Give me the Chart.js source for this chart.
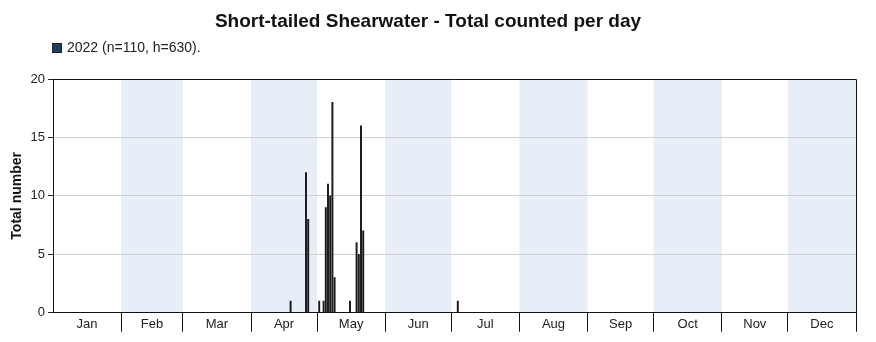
<!DOCTYPE html>
<html>
<head>
<meta charset="utf-8">
<script src="https://cdn.jsdelivr.net/npm/chart.js@4/dist/chart.umd.min.js"></script>
<style>
  html, body { margin: 0; padding: 0; background: #fff; }
  #wrap { width: 876px; height: 342px; }
</style>
</head>
<body>
<div id="wrap"><canvas id="c" width="876" height="342"></canvas></div>
<script>
// Short-tailed Shearwater daily counts, 2022
const chartTitle = 'Short-tailed Shearwater - Total counted per day';
const seriesLabel = '2022 (n=110, h=630).';
const yAxisTitle = 'Total number';
const year = 2022;

const sightingDates = [
  '2022-04-19', '2022-04-26', '2022-04-27', '2022-05-02', '2022-05-04',
  '2022-05-05', '2022-05-06', '2022-05-07', '2022-05-08', '2022-05-09',
  '2022-05-16', '2022-05-19', '2022-05-20', '2022-05-21', '2022-05-22',
  '2022-07-04'
];
const dailyCounts = [1, 12, 8, 1, 1, 9, 11, 10, 18, 3, 1, 6, 5, 16, 7, 1];

const monthLabels = ['Jan', 'Feb', 'Mar', 'Apr', 'May', 'Jun', 'Jul', 'Aug', 'Sep', 'Oct', 'Nov', 'Dec'];
const monthDays = [31, 28, 31, 30, 31, 30, 31, 31, 30, 31, 30, 31];
const yTicks = [0, 5, 10, 15, 20];

const FONT = '"Liberation Sans", Arial, sans-serif';

// day offsets from 1 January
const jan1 = Date.UTC(year, 0, 1);
const dayOffset = s => Math.round((Date.parse(s + 'T00:00:00Z') - jan1) / 86400000);

const monthStarts = [];
monthDays.reduce((acc, d) => { monthStarts.push(acc); return acc + d; }, 0);
const monthEnds = monthStarts.map((s, i) => s + monthDays[i]);
const monthMids = monthStarts.map((s, i) => s + monthDays[i] / 2);
const yearLength = monthEnds[monthEnds.length - 1];

const points = sightingDates.map((d, i) => ({ x: dayOffset(d), y: dailyCounts[i] }));

// alternate months shaded, frame around the plot, legend line
const backdrop = {
  id: 'backdrop',
  beforeDraw(chart) {
    const { ctx, chartArea: a, scales: { x } } = chart;
    ctx.save();
    ctx.fillStyle = '#e8eef8';
    monthStarts.forEach((s, i) => {
      if (i % 2 === 1) {
        const l = x.getPixelForValue(s), r = x.getPixelForValue(monthEnds[i]);
        ctx.fillRect(l, a.top, r - l, a.bottom - a.top);
      }
    });
    ctx.restore();
  },
  afterDraw(chart) {
    const { ctx, chartArea: a } = chart;
    ctx.save();
    ctx.strokeStyle = '#111';
    ctx.lineWidth = 1;
    ctx.beginPath();
    ctx.moveTo(a.left, a.top + 0.5);
    ctx.lineTo(a.right + 0.5, a.top + 0.5);
    ctx.lineTo(a.right + 0.5, a.bottom);
    ctx.stroke();

    // legend
    const bx = a.left - 0.5, by = 43.5;
    ctx.fillStyle = '#1d3f66';
    ctx.strokeStyle = '#222';
    ctx.fillRect(bx, by, 9, 9);
    ctx.strokeRect(bx, by, 9, 9);
    ctx.fillStyle = '#222';
    ctx.font = '14px ' + FONT;
    ctx.textBaseline = 'middle';
    ctx.textAlign = 'left';
    ctx.fillText(chart.data.datasets[0].label, a.left + 14, 48.5);
    ctx.restore();
  }
};

new Chart(document.getElementById('c'), {
  type: 'bar',
  data: {
    datasets: [{
      label: seriesLabel,
      data: points,
      backgroundColor: '#1a1a1a',
      borderWidth: 0,
      barThickness: 1.3
    }]
  },
  options: {
    responsive: false,
    animation: false,
    events: [],
    layout: { padding: { left: 0, right: 20, top: 0, bottom: 0 } },
    plugins: {
      legend: { display: false },
      tooltip: { enabled: false },
      title: {
        display: true,
        text: chartTitle,
        color: '#111',
        font: { family: FONT, size: 19, weight: 'bold', lineHeight: 1.2 },
        padding: { top: 10.6, bottom: 45.6 }
      }
    },
    scales: {
      x: {
        type: 'linear',
        offset: false,
        min: 0,
        max: yearLength,
        afterBuildTicks(scale) {
          scale.ticks = monthMids.map(v => ({ value: v }))
            .concat(monthEnds.map(v => ({ value: v })))
            .sort((p, q) => p.value - q.value);
        },
        afterFit(scale) { scale.height = 29.3; },
        ticks: {
          autoSkip: false,
          maxRotation: 0,
          padding: -15,
          color: '#222',
          font: { family: FONT, size: 13 },
          callback(value) {
            const i = monthMids.indexOf(value);
            return i >= 0 ? monthLabels[i] : '';
          }
        },
        grid: {
          offset: false,
          drawOnChartArea: false,
          drawTicks: true,
          tickLength: 19,
          tickWidth: 1,
          color: ctx => (ctx.tick && monthEnds.includes(ctx.tick.value)) ? '#111' : 'rgba(0,0,0,0)'
        },
        border: { display: true, color: '#111', width: 1 }
      },
      y: {
        min: 0,
        max: 20,
        afterBuildTicks(scale) { scale.ticks = yTicks.map(v => ({ value: v })); },
        afterFit(scale) { scale.width = 53; },
        ticks: {
          color: '#222',
          padding: 3,
          font: { family: FONT, size: 13 }
        },
        grid: {
          color: '#cfcfcf',
          tickColor: '#222',
          tickLength: 5
        },
        border: { display: true, color: '#111', width: 1 },
        title: {
          display: true,
          text: yAxisTitle,
          color: '#111',
          padding: { top: 9, bottom: 4 },
          font: { family: FONT, size: 14, weight: 'bold' }
        }
      }
    }
  },
  plugins: [backdrop]
});
</script>
</body>
</html>
